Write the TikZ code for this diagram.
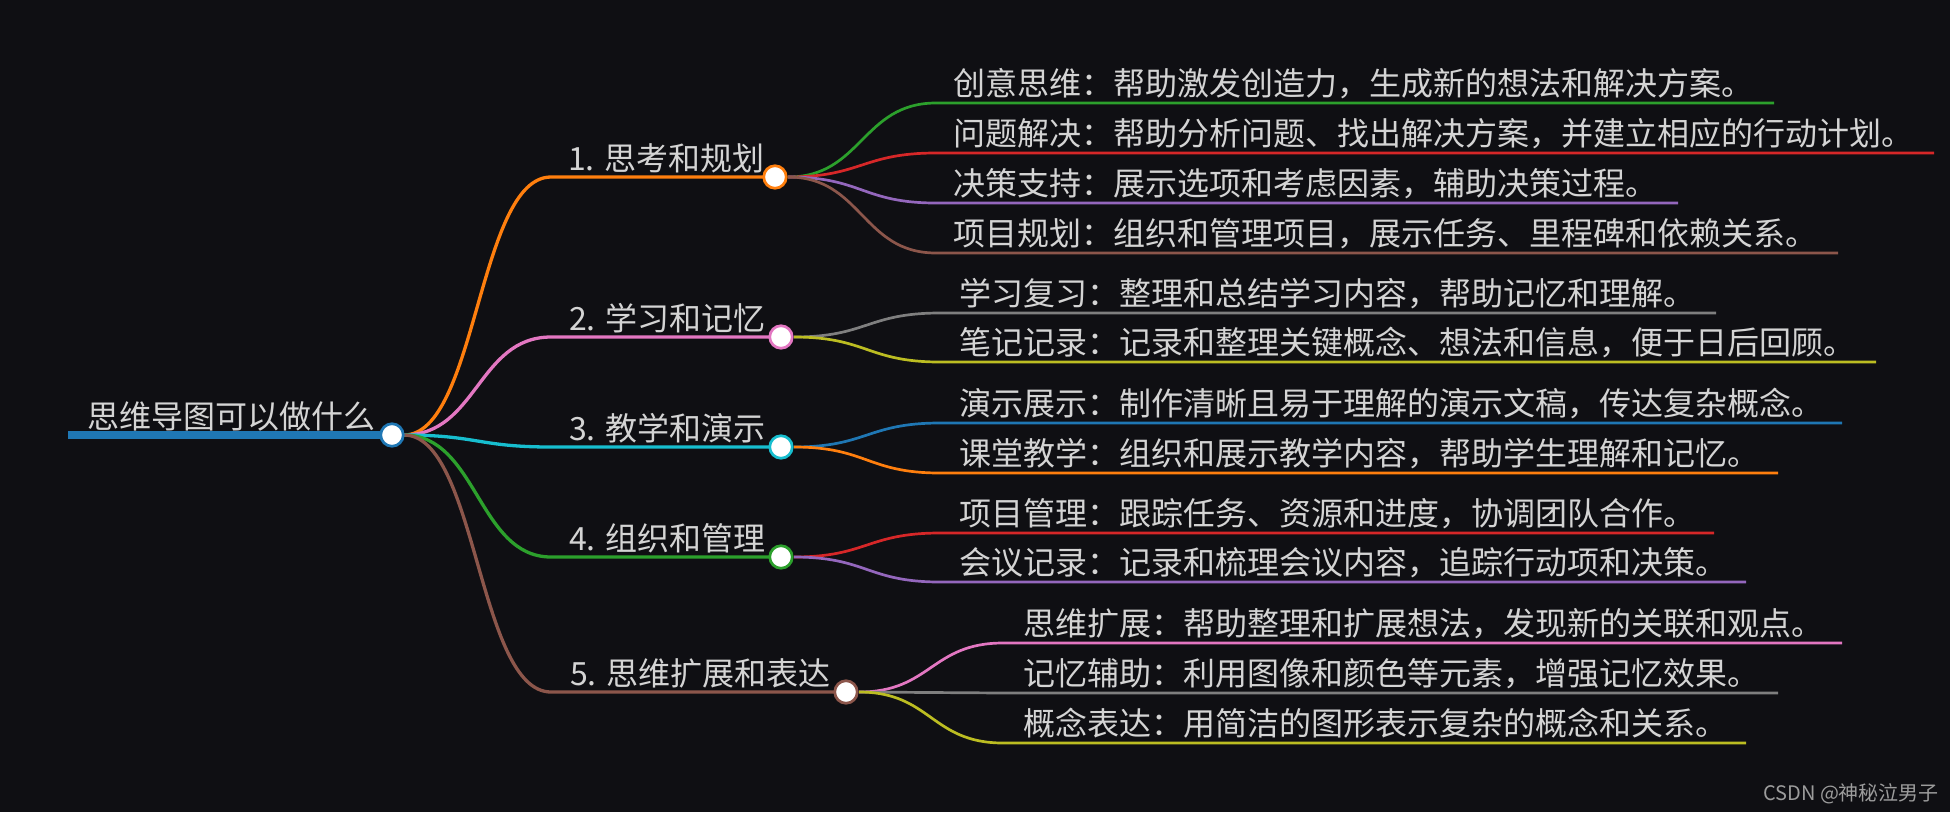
\documentclass[tikz,border=0pt]{standalone}
\usepackage{fontspec}
\newfontfamily\cjk{Noto Sans CJK SC}
\definecolor{bg}{HTML}{0F0F13}
\definecolor{txt}{HTML}{D4D4D4}
\definecolor{wm}{HTML}{9C9C9C}
\definecolor{cblue}{HTML}{1F77B4}
\definecolor{corange}{HTML}{FF7F0E}
\definecolor{cgreen}{HTML}{2CA02C}
\definecolor{cred}{HTML}{D62728}
\definecolor{cpurple}{HTML}{9467BD}
\definecolor{cbrown}{HTML}{8C564B}
\definecolor{cpink}{HTML}{E377C2}
\definecolor{cgrey}{HTML}{7F7F7F}
\definecolor{colive}{HTML}{BCBD22}
\definecolor{ccyan}{HTML}{17BECF}
\begin{document}
\begin{tikzpicture}[x=1pt,y=-1pt,
  lbl/.style={anchor=base west, inner sep=0pt, text=txt, font=\cjk\fontsize{32}{38}\selectfont},
  dot/.style={circle, draw=#1, fill=white, line width=2.7pt, minimum size=22.5pt, inner sep=0pt},
  br/.style={draw=#1, line width=3.3pt},
  ch/.style={draw=#1, line width=2.7pt},
  rootline/.style={draw=cblue, line width=8pt},
]
\fill[bg] (0,0) rectangle (1950,812);
\useasboundingbox (0,0) rectangle (1950,812);

% ---- centres and line points
\coordinate (R) at (392,435);
\coordinate (R0) at (68,435);
\coordinate (Rs) at (404,435);
\coordinate (B1) at (775,177);
\coordinate (B2) at (781,337);
\coordinate (B3) at (781,447);
\coordinate (B4) at (781,557);
\coordinate (B5) at (846,692);
\coordinate (B1a) at (551,177);
\coordinate (B2a) at (551,337);
\coordinate (B3a) at (551,447);
\coordinate (B4a) at (551,557);
\coordinate (B5a) at (551,692);
\coordinate (B1s) at (788,177);
\coordinate (B2s) at (794,337);
\coordinate (B3s) at (794,447);
\coordinate (B4s) at (794,557);
\coordinate (B5s) at (859,692);

% child curve ends and line ends
\coordinate (c11) at (936,103);  \coordinate (e11) at (1774,103);
\coordinate (c12) at (936,153);  \coordinate (e12) at (1934,153);
\coordinate (c13) at (936,203);  \coordinate (e13) at (1678,203);
\coordinate (c14) at (936,253);  \coordinate (e14) at (1838,253);
\coordinate (c21) at (940,313);  \coordinate (e21) at (1716,313);
\coordinate (c22) at (940,362);  \coordinate (e22) at (1876,362);
\coordinate (c31) at (940,423);  \coordinate (e31) at (1842,423);
\coordinate (c32) at (940,473);  \coordinate (e32) at (1778,473);
\coordinate (c41) at (940,533);  \coordinate (e41) at (1714,533);
\coordinate (c42) at (940,582);  \coordinate (e42) at (1746,582);
\coordinate (c51) at (1003,643); \coordinate (e51) at (1842,643);
\coordinate (c52) at (1003,693); \coordinate (e52) at (1778,693);
\coordinate (c53) at (1003,743); \coordinate (e53) at (1746,743);

% ---- root
\draw[rootline] (R0) -- (R);

% ---- branches
\draw[br=corange] (Rs) .. controls +(73,0) and +(-73,0) .. (B1a) -- (B1);
\draw[br=cpink]   (Rs) .. controls +(73,0) and +(-73,0) .. (B2a) -- (B2);
\draw[br=ccyan]   (Rs) .. controls +(73,0) and +(-73,0) .. (B3a) -- (B3);
\draw[br=cgreen]  (Rs) .. controls +(73,0) and +(-73,0) .. (B4a) -- (B4);
\draw[br=cbrown]  (Rs) .. controls +(73,0) and +(-73,0) .. (B5a) -- (B5);

% ---- children
\draw[ch=cgreen]  (B1s) .. controls +(74,0) and +(-74,0) .. (c11) -- (e11);
\draw[ch=cred]    (B1s) .. controls +(74,0) and +(-74,0) .. (c12) -- (e12);
\draw[ch=cpurple] (B1s) .. controls +(74,0) and +(-74,0) .. (c13) -- (e13);
\draw[ch=cbrown]  (B1s) .. controls +(74,0) and +(-74,0) .. (c14) -- (e14);
\draw[ch=cgrey]   (B2s) .. controls +(73,0) and +(-73,0) .. (c21) -- (e21);
\draw[ch=colive]  (B2s) .. controls +(73,0) and +(-73,0) .. (c22) -- (e22);
\draw[ch=cblue]   (B3s) .. controls +(73,0) and +(-73,0) .. (c31) -- (e31);
\draw[ch=corange] (B3s) .. controls +(73,0) and +(-73,0) .. (c32) -- (e32);
\draw[ch=cred]    (B4s) .. controls +(73,0) and +(-73,0) .. (c41) -- (e41);
\draw[ch=cpurple] (B4s) .. controls +(73,0) and +(-73,0) .. (c42) -- (e42);
\draw[ch=cpink]   (B5s) .. controls +(72,0) and +(-72,0) .. (c51) -- (e51);
\draw[ch=cgrey]   (B5s) .. controls +(72,0) and +(-72,0) .. (c52) -- (e52);
\draw[ch=colive]  (B5s) .. controls +(72,0) and +(-72,0) .. (c53) -- (e53);

% ---- circles
\node[dot=cblue]   (Rdot)  at (R)  {};
\node[dot=corange] (B1dot) at (B1) {};
\node[dot=cpink]   (B2dot) at (B2) {};
\node[dot=ccyan]   (B3dot) at (B3) {};
\node[dot=cgreen]  (B4dot) at (B4) {};
\node[dot=cbrown]  (B5dot) at (B5) {};

% ---- texts
\node[lbl] (troot) at (87,428) {思维导图可以做什么};
\node[lbl] (t1) at (568,170) {1. 思考和规划};
\node[lbl] (t2) at (569,330) {2. 学习和记忆};
\node[lbl] (t3) at (569,440) {3. 教学和演示};
\node[lbl] (t4) at (569,550) {4. 组织和管理};
\node[lbl] (t5) at (570,685) {5. 思维扩展和表达};

\node[lbl] (t11) at (953,95)  {创意思维：帮助激发创造力，生成新的想法和解决方案。};
\node[lbl] (t12) at (953,145) {问题解决：帮助分析问题、找出解决方案，并建立相应的行动计划。};
\node[lbl] (t13) at (953,195) {决策支持：展示选项和考虑因素，辅助决策过程。};
\node[lbl] (t14) at (953,245) {项目规划：组织和管理项目，展示任务、里程碑和依赖关系。};
\node[lbl] (t21) at (959,305) {学习复习：整理和总结学习内容，帮助记忆和理解。};
\node[lbl] (t22) at (959,354) {笔记记录：记录和整理关键概念、想法和信息，便于日后回顾。};
\node[lbl] (t31) at (959,415) {演示展示：制作清晰且易于理解的演示文稿，传达复杂概念。};
\node[lbl] (t32) at (959,465) {课堂教学：组织和展示教学内容，帮助学生理解和记忆。};
\node[lbl] (t41) at (959,525) {项目管理：跟踪任务、资源和进度，协调团队合作。};
\node[lbl] (t42) at (959,574) {会议记录：记录和梳理会议内容，追踪行动项和决策。};
\node[lbl] (t51) at (1023,635) {思维扩展：帮助整理和扩展想法，发现新的关联和观点。};
\node[lbl] (t52) at (1023,685) {记忆辅助：利用图像和颜色等元素，增强记忆效果。};
\node[lbl] (t53) at (1023,735) {概念表达：用简洁的图形表示复杂的概念和关系。};

\node[anchor=base west, inner sep=0pt, text=wm, font=\cjk\fontsize{20}{24}\selectfont] (wmark) at (1763,800) {CSDN @神秘泣男子};
\end{tikzpicture}
\end{document}
